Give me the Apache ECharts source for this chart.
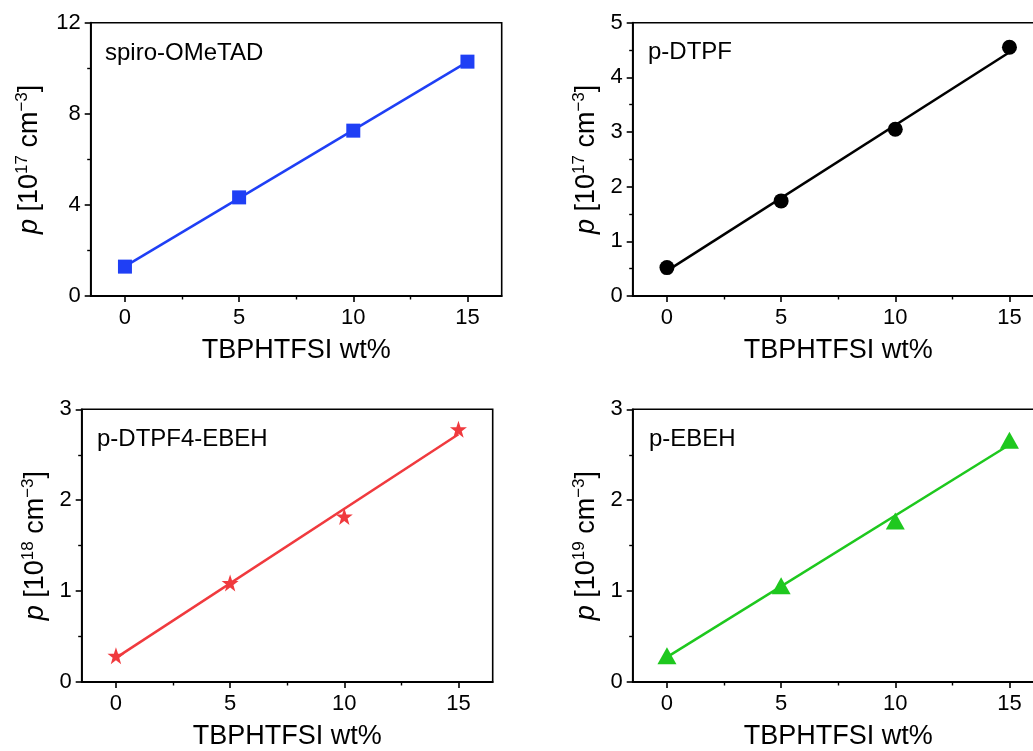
<!DOCTYPE html>
<html>
<head>
<meta charset="utf-8">
<script src="https://cdn.jsdelivr.net/npm/echarts@6/dist/echarts.min.js"></script>
<style>
html,body{margin:0;padding:0;background:#fff;}
#main{width:1033px;height:751px;}
</style>
</head>
<body>
<div id="main"></div>
<script>
// ---- data ----
const xValues = [0, 5, 10, 15];
const xTickValues = [0, 5, 10, 15];
const xMinorTickValues = [2.5, 7.5, 12.5];

const spiroValues = [1.29, 4.33, 7.26, 10.29];
const dtpfValues  = [0.52, 1.74, 3.05, 4.55];
const dtpf4Values = [0.29, 1.09, 1.82, 2.78];
const ebehValues  = [0.29, 1.06, 1.77, 2.66];

// linear fit lines, endpoints
const fitX = [0, 15];
const spiroFit = [1.30, 10.28];
const dtpfFit  = [0.46, 4.46];
const dtpf4Fit = [0.265, 2.725];
const ebehFit  = [0.274, 2.61];

const panelNames = ['spiro-OMeTAD', 'p-DTPF', 'p-DTPF4-EBEH', 'p-EBEH'];
const exponents = ['17', '17', '18', '19'];
const yMax = [12, 5, 3, 3];
const yInterval = [4, 1, 1, 1];
const xTitle = 'TBPHTFSI wt%';

const colors = ['#1f3ff5', '#000000', '#f03a3e', '#1ec81e'];
const symbols = ['rect', 'circle', 'path://M50,0 L61.8,35.1 L98.1,35.1 L68.8,56.7 L79.4,91.4 L50,70 L20.6,91.4 L31.2,56.7 L1.9,35.1 L38.2,35.1 Z', 'triangle'];
const symbolSizes = [14, 15, 17, [19, 17]];
const values = [spiroValues, dtpfValues, dtpf4Values, ebehValues];
const fits = [spiroFit, dtpfFit, dtpf4Fit, ebehFit];

// ---- layout ----
const grids = [
  {left: 90.7, top: 22.7, width: 411, height: 273.3},
  {left: 632.7, top: 22.7, width: 411, height: 273.3},
  {left: 81.7, top: 409.3, width: 411, height: 272.7},
  {left: 632.7, top: 409.3, width: 411, height: 272.7}
];
const labelPos = [[105, 41], [648, 40], [97, 427], [649, 427]];
const yNameGaps = [45.5, 31, 31, 31];

const FONT = '"Liberation Sans", Arial, sans-serif';
const AX = '#000';

const option = {
  backgroundColor: '#fff',
  animation: false,
  grid: grids.map(g => Object.assign({show: true, borderColor: AX, borderWidth: 1.6, backgroundColor: 'transparent', outerBoundsMode: 'none', containLabel: false}, g)),
  xAxis: [],
  yAxis: [],
  series: [],
  graphic: []
};

for (let i = 0; i < 4; i++) {
  // main x axis
  option.xAxis.push({
    type: 'value', gridIndex: i, min: -1.5, max: 16.5, position: 'bottom',
    name: xTitle, nameLocation: 'middle', nameGap: 41,
    nameTextStyle: {fontFamily: FONT, fontSize: 27, color: AX},
    axisLine: {show: true, onZero: false, lineStyle: {color: AX, width: 1.8}},
    axisTick: {show: true, inside: false, length: 6, customValues: xTickValues, lineStyle: {color: AX, width: 1.6}},
    axisLabel: {show: true, customValues: xTickValues, margin: 11, fontFamily: FONT, fontSize: 22, color: AX},
    splitLine: {show: false}
  });
  // minor ticks x axis
  option.xAxis.push({
    type: 'value', gridIndex: i, min: -1.5, max: 16.5, position: 'bottom',
    axisLine: {show: false},
    axisTick: {show: true, inside: false, length: 3.5, customValues: xMinorTickValues, lineStyle: {color: AX, width: 1.4}},
    axisLabel: {show: false},
    splitLine: {show: false}
  });
  option.yAxis.push({
    type: 'value', gridIndex: i, min: 0, max: yMax[i], interval: yInterval[i],
    name: '{i|p} [10{s|' + exponents[i] + '} cm{s|\u22123}]',
    nameLocation: 'middle', nameGap: yNameGaps[i],
    nameTextStyle: {
      fontFamily: FONT, fontSize: 27, color: AX, lineHeight: 31,
      rich: {
        i: {fontFamily: FONT, fontSize: 27, fontStyle: 'italic', color: AX, lineHeight: 31},
        s: {fontFamily: FONT, fontSize: 17, color: AX, verticalAlign: 'top', lineHeight: 17}
      }
    },
    axisLine: {show: true, onZero: false, lineStyle: {color: AX, width: 1.8}},
    axisTick: {show: true, inside: false, length: 6, lineStyle: {color: AX, width: 1.6}},
    minorTick: {show: true, splitNumber: 2, length: 3.5, lineStyle: {color: AX, width: 1.4}},
    axisLabel: {margin: 10, fontFamily: FONT, fontSize: 22, color: AX},
    splitLine: {show: false},
    minorSplitLine: {show: false}
  });
  option.series.push({
    type: 'line', xAxisIndex: 2 * i, yAxisIndex: i,
    data: fitX.map((x, k) => [x, fits[i][k]]),
    showSymbol: false, symbol: 'none',
    lineStyle: {color: colors[i], width: 2.5},
    silent: true, z: 2
  });
  option.series.push({
    type: 'scatter', xAxisIndex: 2 * i, yAxisIndex: i,
    data: xValues.map((x, k) => [x, values[i][k]]),
    symbol: symbols[i], symbolSize: symbolSizes[i],
    itemStyle: {color: colors[i], opacity: 1},
    silent: true, z: 3
  });
  option.graphic.push({
    type: 'text', left: labelPos[i][0], top: labelPos[i][1], silent: true,
    style: {text: panelNames[i], font: '24px ' + FONT, fill: AX}
  });
}

const chart = echarts.init(document.getElementById('main'), null, {renderer: 'canvas'});
chart.setOption(option);
</script>
</body>
</html>
